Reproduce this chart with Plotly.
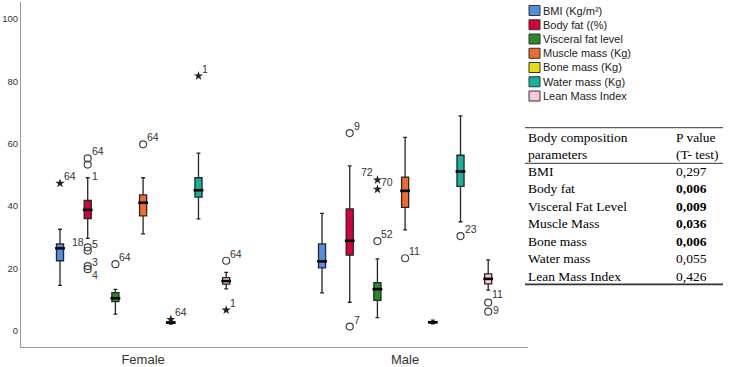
import plotly.graph_objects as go

# ---------------- data ----------------
groups = ["Female", "Male"]
variables = ["BMI (Kg/m²)", "Body fat ((%)", "Visceral fat level", "Muscle mass (Kg)",
             "Bone mass (Kg)", "Water mass (Kg)", "Lean Mass Index"]
colors = ["#4F8FE3", "#D5003B", "#2A8A2A", "#F26B2E", "#E6DF10", "#14B39D", "#F8C6DF"]

# [lower whisker, q1, median, q3, upper whisker] per variable, per group
female_stats = [
    [14.6, 22.5, 26.5, 27.9, 32.6],
    [29.7, 36.0, 38.8, 41.8, 49.1],
    [5.4, 9.4, 10.5, 12.3, 13.3],
    [31.1, 36.9, 41.1, 43.6, 49.1],
    [2.2, 2.5, 2.7, 2.9, 3.2],
    [35.9, 42.9, 45.1, 49.1, 57.0],
    [13.5, 15.0, 16.0, 17.1, 18.8],
]
male_stats = [
    [12.2, 20.2, 22.3, 27.9, 37.7],
    [9.2, 24.3, 28.9, 39.1, 52.9],
    [4.3, 9.8, 13.4, 15.5, 23.1],
    [32.4, 39.6, 44.9, 49.3, 62.0],
    [2.3, 2.6, 2.8, 3.0, 3.5],
    [35.0, 46.3, 51.1, 56.3, 68.9],
    [13.1, 15.1, 16.7, 18.3, 22.8],
]

# outliers: (variable index, value, kind, case label)
female_outliers = [
    (0, 47.3, "star", "64"),
    (1, 55.3, "circle", "64"), (1, 53.3, "circle", ""), (1, 49.1, "none", "1"),
    (1, 26.8, "circle", "18"), (1, 25.7, "circle", "5"),
    (1, 20.8, "circle", "3"), (1, 19.8, "circle", "4"),
    (2, 21.4, "circle", "64"),
    (3, 59.8, "circle", "64"),
    (4, 3.7, "star", "64"),
    (5, 81.7, "star", "1"),
    (6, 22.5, "circle", "64"), (6, 6.7, "star", "1"),
]
male_outliers = [
    (1, 63.4, "circle", "9"), (1, 1.4, "circle", "7"),
    (2, 28.8, "circle", "52"), (2, 48.4, "star", "72"), (2, 45.4, "star", "70"),
    (3, 23.3, "circle", "11"),
    (5, 30.4, "circle", "23"),
    (6, 9.1, "circle", "11"), (6, 6.2, "circle", "9"),
]

table_params = ["BMI", "Body fat", "Visceral Fat Level", "Muscle Mass", "Bone mass",
                "Water mass", "Lean Mass Index"]
table_pvalues = ["0,297", "0,006", "0,009", "0,036", "0,006", "0,055", "0,426"]
table_bold = [False, True, True, True, True, False, False]

# ---------------- layout helpers ----------------
W, H = 729, 367
PL, PR, PT, PB = 21, 528, 2, 347   # plot area in pixels
SPACING = 0.1057                   # offset between boxes within a group (data units)
BOXW = 0.027


def px(x):
    return (x - PL) / (PR - PL)


def py(y):
    return (PB - y) / (PB - PT)


def xpos(g, k):
    return g + (k - 3) * SPACING


fig = go.Figure()
all_stats = [female_stats, male_stats]

for k, name in enumerate(variables):
    xs = [xpos(g, k) for g in range(2)]
    lo = [all_stats[g][k][0] for g in range(2)]
    q1 = [all_stats[g][k][1] for g in range(2)]
    med = [all_stats[g][k][2] for g in range(2)]
    q3 = [all_stats[g][k][3] for g in range(2)]
    hi = [all_stats[g][k][4] for g in range(2)]
    fig.add_trace(go.Box(
        x=xs, q1=q1, median=med, q3=q3, lowerfence=lo, upperfence=hi,
        width=BOXW, whiskerwidth=0.55, fillcolor=colors[k],
        line=dict(color="#262626", width=1.3), boxpoints=False,
        name=name, showlegend=False, hoverinfo="skip"))
    fig.add_trace(go.Scatter(
        x=xs, y=med, mode="markers", showlegend=False, hoverinfo="skip",
        marker=dict(symbol="line-ew", size=7, line=dict(width=2.6, color="black"))))

special = {
    (0, 1, "18"): dict(xanchor="right", xshift=-3, yshift=5),
    (0, 1, "3"): dict(xanchor="left", xshift=3, yshift=4),
    (0, 1, "4"): dict(xanchor="left", xshift=3, yshift=-6),
    (0, 1, "1"): dict(xanchor="left", xshift=3, yshift=2),
    (1, 2, "72"): dict(xanchor="right", xshift=-3, yshift=8),
    (1, 6, "11"): dict(xanchor="left", xshift=3, yshift=9),
    (1, 6, "9"): dict(xanchor="left", xshift=4, yshift=2),
}

annotations = []
for g, outs in enumerate([female_outliers, male_outliers]):
    for (k, v, kind, lab) in outs:
        x = xpos(g, k)
        if kind == "circle":
            fig.add_trace(go.Scatter(x=[x], y=[v], mode="markers", showlegend=False,
                                     hoverinfo="skip",
                                     marker=dict(symbol="circle-open", size=7,
                                                 color="#444444", line=dict(width=1.2))))
        elif kind == "star":
            fig.add_trace(go.Scatter(x=[x], y=[v], mode="markers", showlegend=False,
                                     hoverinfo="skip",
                                     marker=dict(symbol="star", size=7, color="#222222",
                                                 line=dict(width=0))))
        if lab:
            opts = dict(xanchor="left", xshift=3, yshift=7)
            opts.update(special.get((g, k, lab), {}))
            annotations.append(dict(x=x, y=v, xref="x", yref="y", text=lab, showarrow=False,
                                    yanchor="middle", borderpad=0,
                                    font=dict(family="Liberation Sans", size=10.5, color="#333333"),
                                    **opts))

# ---------------- legend (manual) ----------------
shapes = []
for k, name in enumerate(variables):
    yc = 10.5 + k * 14.25
    shapes.append(dict(type="rect", xref="paper", yref="paper",
                       x0=px(529), x1=px(540), y0=py(yc + 5), y1=py(yc - 5),
                       fillcolor=colors[k], line=dict(color="#333333", width=1)))
    annotations.append(dict(x=px(542), y=py(yc), xref="paper", yref="paper", text=name,
                            showarrow=False, xanchor="left", yanchor="middle", borderpad=0,
                            font=dict(family="Liberation Sans", size=11, color="#222222")))

# ---------------- table ----------------
TX0, TX1, TC2 = 525, 723, 675
tfont = dict(family="Liberation Serif", size=13.5, color="black")
for yl, wdt in [(127.7, 1), (163.3, 1), (284.3, 1.8)]:
    shapes.append(dict(type="line", xref="paper", yref="paper", x0=px(TX0), x1=px(TX1),
                       y0=py(yl), y1=py(yl), line=dict(color="#333333", width=wdt)))
for txt, xx, yy in [("Body composition", 527, 137), ("parameters", 527, 154),
                    ("P value", TC2, 137), ("(T- test)", TC2, 154)]:
    annotations.append(dict(x=px(xx), y=py(yy), xref="paper", yref="paper", text=txt,
                            showarrow=False, xanchor="left", yanchor="middle", borderpad=0,
                            font=tfont))
for i, (p, v, b) in enumerate(zip(table_params, table_pvalues, table_bold)):
    yy = 171.5 + i * 17.45
    annotations.append(dict(x=px(527), y=py(yy), xref="paper", yref="paper", text=p,
                            showarrow=False, xanchor="left", yanchor="middle", borderpad=0,
                            font=tfont))
    annotations.append(dict(x=px(TC2), y=py(yy), xref="paper", yref="paper",
                            text=f"<b>{v}</b>" if b else v, borderpad=0,
                            showarrow=False, xanchor="left", yanchor="middle", font=tfont))

fig.update_layout(
    width=W, height=H, margin=dict(l=PL, r=W - PR, t=PT, b=H - PB),
    paper_bgcolor="white", plot_bgcolor="white",
    shapes=shapes, annotations=annotations, showlegend=False,
    xaxis=dict(range=[-0.466, 1.469], tickvals=[0, 1], ticktext=groups, automargin=False,
               showline=True, linecolor="#9a9a9a", linewidth=1.2, showgrid=False,
               zeroline=False, ticks="", tickfont=dict(family="Liberation Sans", size=13,
                                                       color="#333333")),
    yaxis=dict(range=[-5.13, 105.4], tickvals=[0, 20, 40, 60, 80, 100], automargin=False,
               showline=True, linecolor="#9a9a9a", linewidth=1.2, showgrid=False,
               zeroline=False, ticks="", ticklabelstandoff=0,
               tickfont=dict(family="Liberation Sans", size=9.5, color="#333333")),
)

fig.write_html("out.html")
